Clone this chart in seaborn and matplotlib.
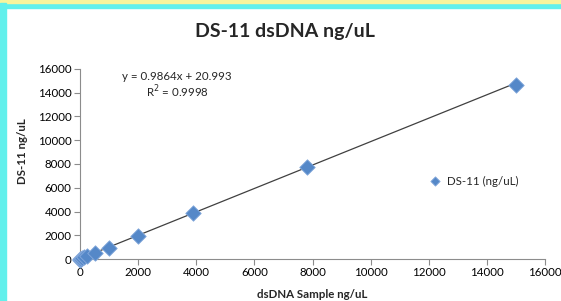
import matplotlib
matplotlib.use("Agg")
import matplotlib.pyplot as plt
import seaborn as sns
import numpy as np
import pandas as pd
from matplotlib.patches import Rectangle

# valores
sample_ng = [0, 15, 31, 62, 125, 250, 500, 1000, 2000, 3900, 7800, 15000]
ds11_ng = [-60, 10, 40, 80, 130, 260, 480, 960, 1930, 3870, 7750, 14680]
slope = 0.9864
intercept = 20.993
r2 = 0.9998

df = pd.DataFrame({"sample": sample_ng, "ds11": ds11_ng})

sns.set_style("white")
plt.rcParams["font.family"] = ["Lato", "DejaVu Sans"]

fig = plt.figure(figsize=(5.61, 3.01), dpi=100)
fig.patch.set_facecolor("white")

# moldura colorida da captura
fig.patches.append(Rectangle((0, 1 - 8 / 301), 1, 8 / 301, transform=fig.transFigure,
                             color="#62F0EC", zorder=0))
fig.patches.append(Rectangle((0, 1 - 3 / 301), 1, 3 / 301, transform=fig.transFigure,
                             color="#F8F49C", zorder=0))
fig.patches.append(Rectangle((0, 0), 6 / 561, 1 - 3 / 301, transform=fig.transFigure,
                             color="#62F0EC", zorder=0))

ax = fig.add_axes([80 / 561, 42 / 301, 465 / 561, 190 / 301])

# linha de tendência
xs = np.array([0, sample_ng[-1]])
ax.plot(xs, slope * xs + intercept, color="#404040", lw=0.9, zorder=2)

sns.scatterplot(data=df, x="sample", y="ds11", marker="D", s=62, color="#5588C8",
                edgecolor="#86AADC", linewidth=0.6, ax=ax, zorder=3, clip_on=False,
                label="DS-11 (ng/uL)", legend=False)

ax.set_xlim(0, 16000)
ax.set_ylim(0, 16000)
ax.set_xticks(range(0, 16001, 2000))
ax.set_yticks(range(0, 16001, 2000))
sns.despine(ax=ax)
for s in ["left", "bottom"]:
    ax.spines[s].set_color("#8C8C8C")
    ax.spines[s].set_linewidth(0.8)
ax.tick_params(axis="both", direction="out", length=4, width=0.8, color="#8C8C8C",
               labelsize=8.3, labelcolor="black", pad=2)
ax.tick_params(axis="x", bottom=True)
ax.tick_params(axis="y", left=True)
ax.set_xlabel("")
ax.set_ylabel("")

fig.text(285 / 561, 1 - 32 / 301, "DS-11 dsDNA ng/uL", ha="center", va="center",
         fontsize=14, fontweight="bold")
fig.text(312 / 561, 1 - 295 / 301, "dsDNA Sample ng/uL", ha="center", va="center",
         fontsize=8.3, fontweight="bold")
fig.text(22 / 561, 1 - 151 / 301, "DS-11 ng/uL", ha="center", va="center",
         fontsize=8.3, fontweight="bold", rotation=90)

fig.text(177 / 561, 1 - 77 / 301, f"y = {slope}x + {intercept}", ha="center", va="center",
         fontsize=8.3)
fig.text(177 / 561, 1 - 92 / 301, f"R$^2$ = {r2}", ha="center", va="center", fontsize=8.3)

ax.legend(loc="center left", bbox_to_anchor=(423 / 561, 1 - 181 / 301),
          bbox_transform=fig.transFigure, frameon=False, fontsize=8.3,
          handletextpad=0.1, markerscale=0.6, borderpad=0, borderaxespad=0)

fig.savefig("out.png", dpi=100)
